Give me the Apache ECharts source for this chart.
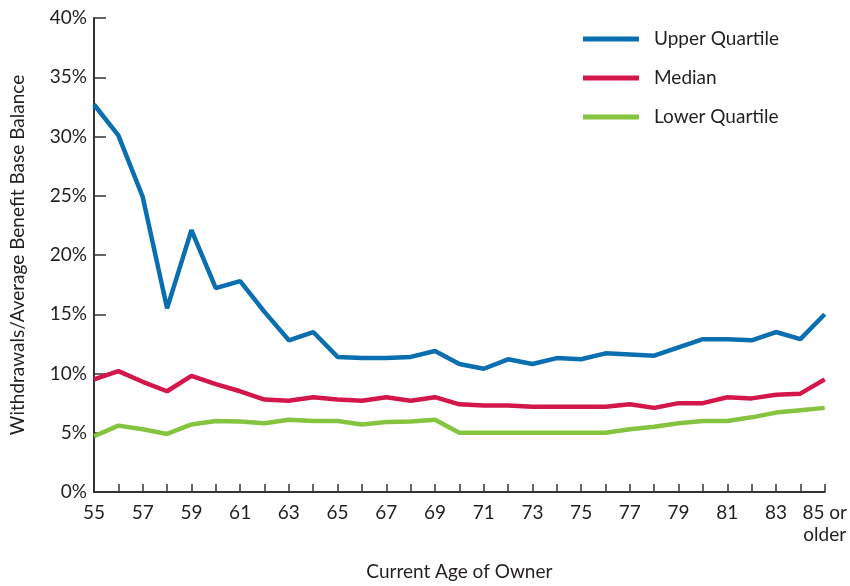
<!DOCTYPE html>
<html>
<head>
<meta charset="utf-8">
<script src="https://cdn.jsdelivr.net/npm/echarts@6/dist/echarts.min.js"></script>
<style>
  html, body { margin: 0; padding: 0; background: #fff; }
  #chart { width: 850px; height: 586px; }
</style>
</head>
<body>
<div id="chart"></div>
<script>
(function() {
  // ages 55 .. 85 or older
  const ages = ['55', '56', '57', '58', '59', '60', '61', '62', '63', '64',
    '65', '66', '67', '68', '69', '70', '71', '72', '73', '74',
    '75', '76', '77', '78', '79', '80', '81', '82', '83', '84', '85 or\nolder'];
  const upperQuartile = [32.7, 30.1, 24.9, 15.5, 22.1, 17.2, 17.8, 15.2, 12.8, 13.5,
    11.4, 11.3, 11.3, 11.4, 11.9, 10.8, 10.4, 11.2, 10.8, 11.3,
    11.2, 11.7, 11.6, 11.5, 12.2, 12.9, 12.9, 12.8, 13.5, 12.9, 15.0];
  const median = [9.5, 10.2, 9.3, 8.5, 9.8, 9.1, 8.5, 7.8, 7.7, 8.0,
    7.8, 7.7, 8.0, 7.7, 8.0, 7.4, 7.3, 7.3, 7.2, 7.2,
    7.2, 7.2, 7.4, 7.1, 7.5, 7.5, 8.0, 7.9, 8.2, 8.3, 9.5];
  const lowerQuartile = [4.7, 5.6, 5.3, 4.9, 5.7, 6.0, 5.95, 5.8, 6.1, 6.0,
    6.0, 5.7, 5.9, 5.95, 6.1, 5.0, 5.0, 5.0, 5.0, 5.0,
    5.0, 5.0, 5.3, 5.5, 5.8, 6.0, 6.0, 6.3, 6.7, 6.9, 7.1];

  const font = 'Lato';
  const textColor = '#231f20';
  const axisColor = '#333333';

  const chart = echarts.init(document.getElementById('chart'), null, { renderer: 'canvas' });

  function line(name, data, color) {
    return {
      name: name,
      type: 'line',
      data: data,
      showSymbol: false,
      symbol: 'none',
      lineStyle: { color: color, width: 4.5 },
      itemStyle: { color: color },
      emphasis: { disabled: true }
    };
  }

  const option = {
    animation: false,
    textStyle: { fontFamily: font, color: textColor },
    grid: { left: 91, right: 23, top: 18, bottom: 91, containLabel: false },
    legend: {
      orient: 'vertical',
      left: 578,
      top: 24,
      icon: 'rect',
      itemWidth: 56,
      itemHeight: 5,
      itemGap: 19,
      textStyle: { fontFamily: font, fontSize: 19, color: textColor, padding: [0, 0, 0, 10], lineHeight: 20 },
      data: ['Upper Quartile', 'Median', 'Lower Quartile']
    },
    xAxis: {
      type: 'category',
      data: ages,
      boundaryGap: false,
      name: 'Current Age of Owner',
      nameLocation: 'middle',
      nameGap: 70,
      nameTextStyle: { fontFamily: font, fontSize: 19, color: textColor },
      axisLine: { lineStyle: { color: axisColor, width: 2 } },
      axisTick: { inside: true, length: 8, interval: 0, lineStyle: { color: axisColor, width: 1.5 } },
      axisLabel: {
        interval: 1,
        margin: 10,
        fontFamily: font,
        fontSize: 19,
        lineHeight: 22,
        color: textColor
      },
      splitLine: { show: false }
    },
    yAxis: {
      type: 'value',
      min: 0,
      max: 40,
      interval: 5,
      name: 'Withdrawals/Average Benefit Base Balance',
      nameLocation: 'middle',
      nameGap: 67,
      nameTextStyle: { fontFamily: font, fontSize: 19, color: textColor },
      axisLine: { show: true, lineStyle: { color: axisColor, width: 2 } },
      axisTick: { show: true, inside: true, length: 12, lineStyle: { color: axisColor, width: 1.5 } },
      axisLabel: {
        formatter: '{value}%',
        margin: 7,
        fontFamily: font,
        fontSize: 19,
        color: textColor
      },
      splitLine: { show: false }
    },
    series: [
      line('Upper Quartile', upperQuartile, '#0a6fb0'),
      line('Median', median, '#d3174b'),
      line('Lower Quartile', lowerQuartile, '#86c440')
    ]
  };
  chart.setOption(option);
}());
</script>
</body>
</html>
